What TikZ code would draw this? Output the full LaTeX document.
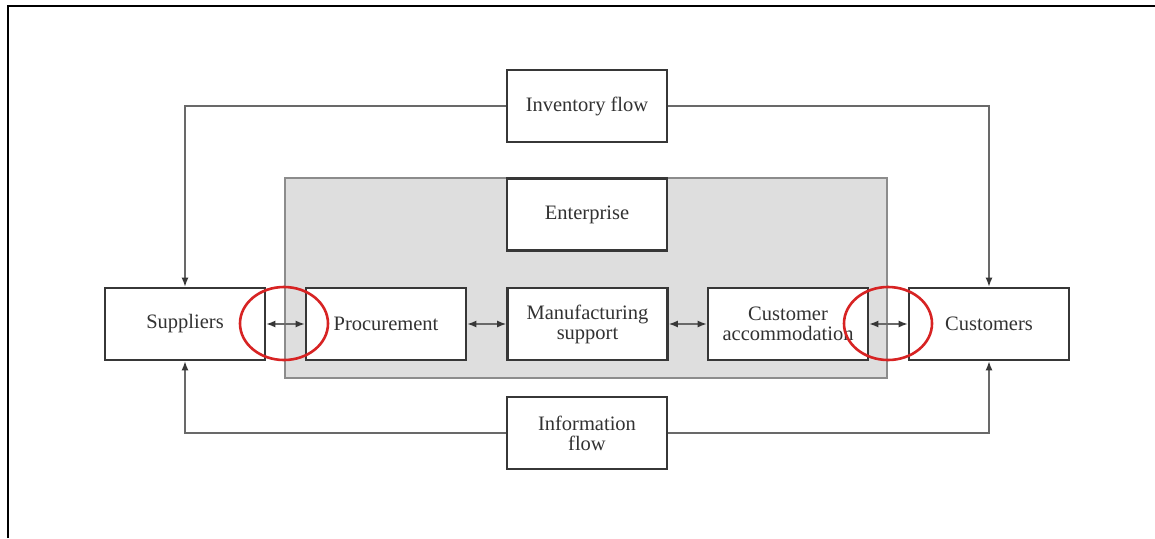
\documentclass[tikz,border=0pt]{standalone}
\usepackage{fontspec}
\setmainfont{Liberation Serif}
\usetikzlibrary{arrows.meta}
\definecolor{boxline}{RGB}{55,55,55}
\definecolor{conline}{RGB}{105,105,105}
\definecolor{entfill}{RGB}{222,222,222}
\definecolor{entline}{RGB}{140,140,140}
\definecolor{txt}{RGB}{50,50,50}
\definecolor{ring}{RGB}{215,35,35}
\begin{document}
\begin{tikzpicture}[x=1pt,y=-1pt,
  blk/.style={draw=boxline,line width=2.8pt,fill=white,minimum width=160pt,minimum height=72pt,
    inner sep=0pt,align=center,text=txt,font=\fontsize{20.5}{20}\selectfont},
  con/.style={draw=conline,line width=1.3pt},
  tip/.style={-{Latex[length=9pt,width=7pt,color=boxline]}},
  dbl/.style={{Latex[length=9pt,width=7pt,color=boxline]}-{Latex[length=9pt,width=7pt,color=boxline]}},
  ringst/.style={draw=ring,line width=2.6pt}]
\useasboundingbox (0,0) rectangle (1155,538);
\fill[white] (0,0) rectangle (1155,538);
% outer frame (only left and top visible)
\draw[line width=2.2pt,black] (8,538) -- (8,6) -- (1155,6);
% enterprise region
\draw[fill=entfill,draw=entline,line width=1.5pt] (285,178) rectangle (887,378);
% boxes
\node[blk] (inv) at (587,106) {Inventory flow};
\node[blk] (ent) at (587,214.5) {Enterprise};
\node[blk] (sup) at (185,324) {Suppliers};
\node[blk] (proc) at (386,324) {Procurement};
\node[blk] (man) at (587.5,324) {Manufacturing\\support};
\node[blk] (acc) at (788,324) {Customer\\accommodation};
\node[blk] (cust) at (989,324) {Customers};
\node[blk] (info) at (587,433) {Information\\flow};
% flows
\draw[con,tip] (inv.west) -| (sup.north);
\draw[con,tip] (inv.east) -| (cust.north);
\draw[con,tip] (info.west) -| (sup.south);
\draw[con,tip] (info.east) -| (cust.south);
% double arrows
\draw[con,dbl] (sup.east) -- (proc.west);
\draw[con,dbl] (proc.east) -- (man.west);
\draw[con,dbl] (man.east) -- (acc.west);
\draw[con,dbl] (acc.east) -- (cust.west);
% red rings
\draw[ringst] (284,323.5) ellipse [x radius=44pt,y radius=36.5pt];
\draw[ringst] (888,323.5) ellipse [x radius=44pt,y radius=36.5pt];
\end{tikzpicture}
\end{document}
